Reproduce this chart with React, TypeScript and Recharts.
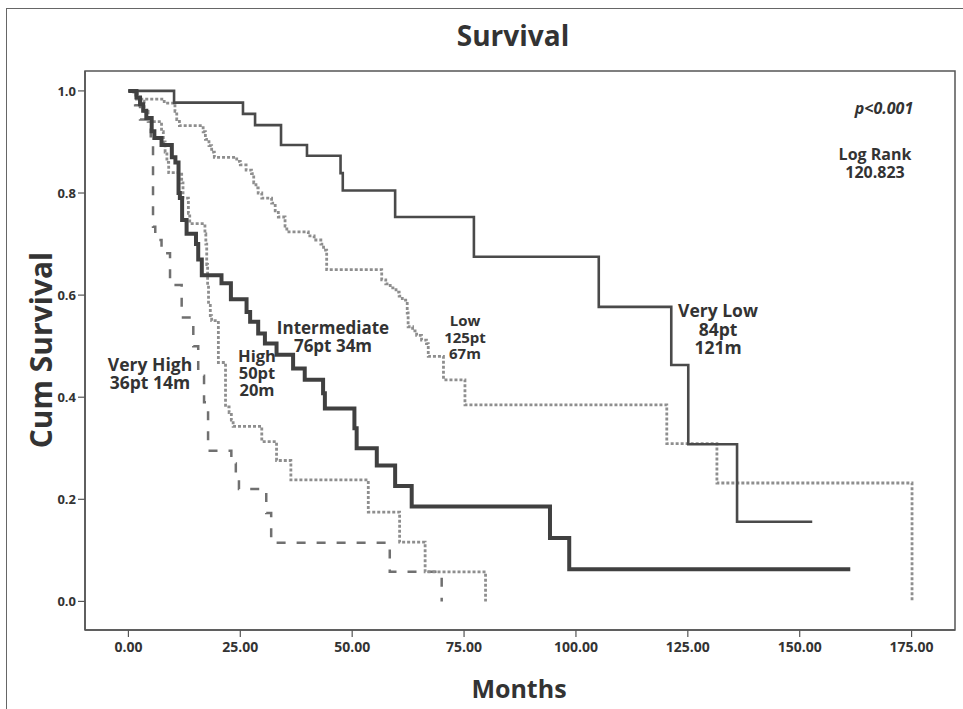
import React from "react";
import { LineChart, Line, XAxis, YAxis, ReferenceArea } from "recharts";

// ---- data (months, cumulative survival) ----
const xTicks = [0, 25, 50, 75, 100, 125, 150, 175];
const yTicks = [0, 0.2, 0.4, 0.6, 0.8, 1.0];

const veryLowMonths = [0, 10.2, 25.6, 28.3, 34.1, 39.9, 47.4, 47.9, 59.6, 77.2, 105.1, 121.3, 125.1, 136.0, 152.8];
const veryLowSurv = [1.0, 0.977, 0.955, 0.933, 0.894, 0.873, 0.839, 0.805, 0.753, 0.675, 0.577, 0.463, 0.308, 0.156, 0.156];

const lowMonths = [0, 1.2, 1.8, 8.0, 10.4, 10.8, 11.4, 16.7, 17.2, 18.0, 18.6, 19.2, 24.2, 25.0, 26.3, 27.5, 28.0, 28.5, 29.0, 29.8, 32.0, 32.8, 33.5, 35.0, 35.4, 40.2, 41.5, 43.0, 43.6, 44.3, 56.6, 57.5, 58.5, 59.8, 60.5, 61.2, 62.3, 62.5, 63.5, 64.4, 65.5, 66.6, 67.0, 70.4, 75.2, 120.3, 131.5, 175.1];
const lowSurv = [1.0, 0.992, 0.984, 0.976, 0.96, 0.944, 0.932, 0.92, 0.905, 0.893, 0.88, 0.87, 0.862, 0.855, 0.845, 0.838, 0.82, 0.81, 0.8, 0.79, 0.78, 0.765, 0.753, 0.735, 0.724, 0.716, 0.708, 0.7, 0.688, 0.65, 0.63, 0.622, 0.614, 0.606, 0.598, 0.59, 0.565, 0.538, 0.53, 0.521, 0.512, 0.505, 0.48, 0.434, 0.385, 0.309, 0.232, 0.0];

const intermediateMonths = [0, 1.8, 2.6, 3.3, 4.0, 5.2, 5.8, 7.4, 9.7, 10.5, 11.2, 11.5, 12.0, 13.0, 15.1, 15.6, 16.4, 20.8, 22.9, 26.4, 27.2, 29.0, 30.5, 33.1, 36.8, 39.4, 43.5, 43.9, 50.5, 51.0, 55.5, 59.6, 63.3, 94.2, 98.5, 161.3];
const intermediateSurv = [1.0, 0.987, 0.974, 0.961, 0.947, 0.921, 0.908, 0.894, 0.87, 0.86, 0.8, 0.79, 0.747, 0.72, 0.7, 0.67, 0.639, 0.623, 0.592, 0.567, 0.548, 0.525, 0.505, 0.483, 0.456, 0.434, 0.408, 0.378, 0.339, 0.3, 0.266, 0.226, 0.186, 0.124, 0.063, 0.063];

const highMonths = [0, 2.0, 3.5, 4.4, 7.4, 7.8, 8.2, 8.6, 9.0, 11.9, 12.2, 13.4, 13.7, 17.1, 17.3, 17.5, 17.7, 17.9, 18.3, 18.6, 20.1, 21.7, 22.5, 23.0, 23.4, 29.8, 33.1, 36.3, 53.6, 60.6, 66.3, 79.8];
const highSurv = [1.0, 0.98, 0.96, 0.94, 0.92, 0.9, 0.88, 0.86, 0.84, 0.82, 0.79, 0.76, 0.74, 0.72, 0.7, 0.66, 0.62, 0.58, 0.56, 0.55, 0.468, 0.381, 0.37, 0.355, 0.343, 0.313, 0.276, 0.238, 0.175, 0.116, 0.058, 0.0];

const veryHighMonths = [0, 1.5, 2.6, 5.0, 5.5, 6.0, 7.4, 9.3, 11.9, 14.5, 15.6, 16.9, 17.8, 23.0, 24.0, 24.7, 30.8, 31.9, 58.4, 70.0];
const veryHighSurv = [1.0, 0.972, 0.944, 0.9, 0.734, 0.708, 0.682, 0.62, 0.556, 0.5, 0.442, 0.39, 0.295, 0.27, 0.25, 0.22, 0.173, 0.115, 0.058, 0.0];

const toSeries = (t: number[], s: number[]) => t.map((v, i) => ({ t: v, s: s[i] }));

const X_DOMAIN: [number, number] = [-9.7, 184.7];
const Y_DOMAIN: [number, number] = [-0.056, 1.039];

const FONT = "'Open Sans', 'DejaVu Sans', sans-serif";
const TXT = "#333333";

const annotations: { lines: string[]; x: number; y: number; size: number; italic?: boolean; gap: number }[] = [
  { lines: ["p<0.001"], x: 884, y: 108, size: 16, italic: true, gap: 17 },
  { lines: ["Log Rank", "120.823"], x: 875, y: 154, size: 16, gap: 18 },
  { lines: ["Very Low", "84pt", "121m"], x: 718, y: 310, size: 17.5, gap: 18.5 },
  { lines: ["Low", "125pt", "67m"], x: 465, y: 320, size: 15, gap: 16.5 },
  { lines: ["Intermediate", "76pt 34m"], x: 333, y: 327, size: 17, gap: 17.5 },
  { lines: ["High", "50pt", "20m"], x: 257, y: 355, size: 16.5, gap: 17 },
  { lines: ["Very High", "36pt 14m"], x: 150, y: 364, size: 17.5, gap: 18 },
];

export default function App() {
  return (
    <div style={{ position: "absolute", left: 0, top: 0, width: 963, height: 709, background: "#fff", overflow: "hidden" }}>
      <div
        style={{
          position: "absolute",
          left: 6,
          top: 8,
          width: 980,
          height: 720,
          borderLeft: "1.5px solid #666",
          borderTop: "1.5px solid #666",
        }}
      />
      <LineChart width={963} height={709} margin={{ top: 71, right: 8, bottom: 0, left: 0 }} style={{ position: "absolute", left: 0, top: 0 }}>
        <XAxis
          type="number"
          dataKey="t"
          domain={X_DOMAIN}
          ticks={xTicks}
          allowDataOverflow
          height={79}
          tickSize={7}
          tickMargin={5}
          tickFormatter={(v: number) => v.toFixed(2)}
          axisLine={{ stroke: "#555", strokeWidth: 1.5 }}
          tickLine={{ stroke: "#555", strokeWidth: 1.2 }}
          tick={{ fill: TXT, fontSize: 14, fontWeight: 700, fontFamily: FONT }}
        />
        <YAxis
          type="number"
          domain={Y_DOMAIN}
          ticks={yTicks}
          allowDataOverflow
          width={85}
          tickSize={7}
          tickMargin={2}
          tickFormatter={(v: number) => v.toFixed(1)}
          axisLine={{ stroke: "#555", strokeWidth: 1.5 }}
          tickLine={{ stroke: "#555", strokeWidth: 1.2 }}
          tick={{ fill: TXT, fontSize: 13, fontWeight: 700, fontFamily: FONT }}
        />
        <ReferenceArea
          x1={X_DOMAIN[0]}
          x2={X_DOMAIN[1]}
          y1={Y_DOMAIN[0]}
          y2={Y_DOMAIN[1]}
          fill="none"
          fillOpacity={0}
          stroke="#555"
          strokeWidth={1.5}
          ifOverflow="visible"
        />
        <Line
          data={toSeries(veryHighMonths, veryHighSurv)}
          dataKey="s"
          type="stepAfter"
          stroke="#707070"
          strokeWidth={2.5}
          strokeDasharray="9 11"
          dot={false}
          activeDot={false}
          isAnimationActive={false}
        />
        <Line
          data={toSeries(highMonths, highSurv)}
          dataKey="s"
          type="stepAfter"
          stroke="#8e8e8e"
          strokeWidth={2.8}
          strokeDasharray="3 2"
          dot={false}
          activeDot={false}
          isAnimationActive={false}
        />
        <Line
          data={toSeries(lowMonths, lowSurv)}
          dataKey="s"
          type="stepAfter"
          stroke="#8e8e8e"
          strokeWidth={2.8}
          strokeDasharray="3 2"
          dot={false}
          activeDot={false}
          isAnimationActive={false}
        />
        <Line
          data={toSeries(veryLowMonths, veryLowSurv)}
          dataKey="s"
          type="stepAfter"
          stroke="#4a4a4a"
          strokeWidth={2.6}
          dot={false}
          activeDot={false}
          isAnimationActive={false}
        />
        <Line
          data={toSeries(intermediateMonths, intermediateSurv)}
          dataKey="s"
          type="stepAfter"
          stroke="#404040"
          strokeWidth={4}
          dot={false}
          activeDot={false}
          isAnimationActive={false}
        />
      </LineChart>
      <svg width={963} height={709} style={{ position: "absolute", left: 0, top: 0, pointerEvents: "none" }}>
        <text x={513} y={35} textAnchor="middle" dominantBaseline="central" fontFamily={FONT} fontWeight={700} fontSize={28} fill={TXT}>
          Survival
        </text>
        <text
          x={40}
          y={350}
          transform="rotate(-90 40 350)"
          textAnchor="middle"
          dominantBaseline="central"
          fontFamily={FONT}
          fontWeight={700}
          fontSize={30}
          fill={TXT}
        >
          Cum Survival
        </text>
        <text x={519} y={688} textAnchor="middle" dominantBaseline="central" fontFamily={FONT} fontWeight={700} fontSize={25} fill={TXT}>
          Months
        </text>
        {annotations.map((a, i) => (
          <text
            key={i}
            x={a.x}
            y={a.y}
            textAnchor="middle"
            dominantBaseline="central"
            fontFamily={FONT}
            fontWeight={700}
            fontStyle={a.italic ? "italic" : "normal"}
            fontSize={a.size}
            fill={TXT}
          >
            {a.lines.map((ln, j) => (
              <tspan key={j} x={a.x} dy={j === 0 ? 0 : a.gap}>
                {ln}
              </tspan>
            ))}
          </text>
        ))}
      </svg>
    </div>
  );
}
